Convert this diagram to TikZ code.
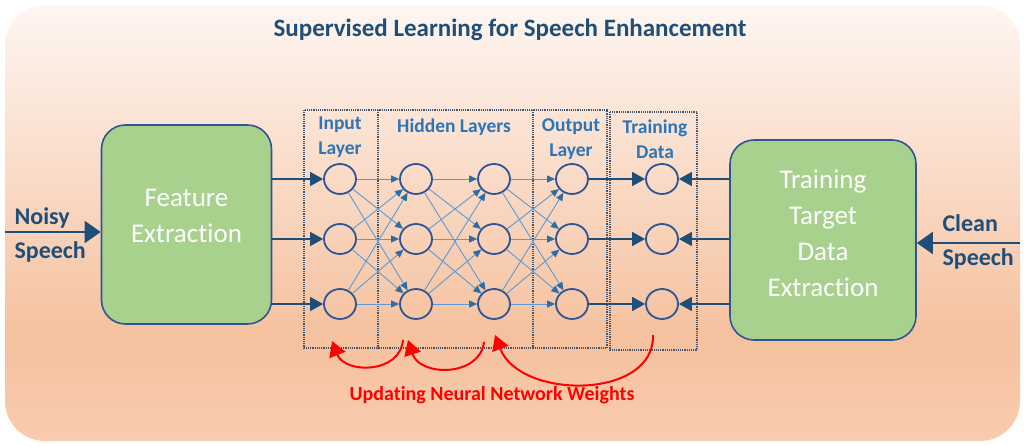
\documentclass[tikz,border=0pt]{standalone}
\usepackage{fontspec}
\setmainfont{Carlito}[Ligatures=NoCommon]
\usetikzlibrary{arrows.meta,positioning,shapes.geometric}
\definecolor{diagink}{HTML}{1F4E79}
\definecolor{diagborder}{HTML}{2F5597}
\definecolor{diaggreen}{HTML}{A9D18E}
\definecolor{diaglabel}{HTML}{2E75B6}
\definecolor{diagwire}{HTML}{5B9BD5}
\definecolor{diagtip}{HTML}{2E6DA4}
\definecolor{diagdots}{HTML}{44546A}
\definecolor{bgtop}{HTML}{FEF6F2}
\definecolor{bgmid}{HTML}{F5C19E}
\definecolor{bgbot}{HTML}{F8CCAF}
\pgfdeclareverticalshading{bgfade}{100bp}{color(0bp)=(bgbot); color(25bp)=(bgbot);
  color(37bp)=(bgmid); color(75bp)=(bgtop); color(100bp)=(bgtop)}

\begin{document}
\begin{tikzpicture}[x=1pt,y=-1pt,
    stagebox/.style={draw=diagborder,line width=1.6pt,fill=diaggreen,rounded corners=24pt},
    stagetext/.style={text=white,align=center,font=\fontsize{27}{36}\selectfont},
    neuron/.style={ellipse,draw=diagborder,line width=1.8pt,minimum width=32pt,
      minimum height=30pt,inner sep=0pt},
    layerbox/.style={draw=diagdots,densely dotted,line width=1.2pt},
    layertext/.style={text=diaglabel,align=center,font=\fontsize{19.5}{25}\selectfont\bfseries},
    signal/.style={draw=diagink,line width=1.6pt,-{Triangle[length=13pt,width=14pt]}},
    wire/.style={draw=diagwire,line width=0.9pt,-{Triangle[length=8pt,width=7pt,color=diagtip]}},
    feedback/.style={draw=red,line width=2pt,-{Triangle[length=15pt,width=17pt]}},
    sidetext/.style={text=diagink,align=left,font=\fontsize{24}{34}\selectfont\bfseries}]
    \useasboundingbox (0,0) rectangle (1024,446);
    \shade[shading=bgfade,rounded corners=40pt] (5,5) rectangle (1020,441);
    \node[text=diagink,font=\fontsize{25}{28}\selectfont\bfseries,anchor=base]
      (title) at (510,37) {Supervised Learning for Speech Enhancement};
    % dotted layer frames
    \draw[layerbox] (304,110) rectangle (607,348);
    \draw[layerbox] (378,110) -- (378,348);
    \draw[layerbox] (533,110) -- (533,348);
    \draw[layerbox] (610,112) rectangle (697,350);
    \node[layertext] (inlabel) at (340,137) {Input\\Layer};
    \node[layertext] (hidlabel) at (454,127) {Hidden Layers};
    \node[layertext] (outlabel) at (571,139) {Output\\Layer};
    \node[layertext] (tdlabel) at (655,139) {Training\\Data};
    % processing blocks
    \node[stagebox,minimum width=170pt,minimum height=199pt] (feat) at (186.5,224.5) {};
    \node[stagetext] (feattext) at ([yshift=9pt]feat.center) {Feature\\Extraction};
    \node[stagebox,minimum width=186pt,minimum height=200pt] (target) at (823,240) {};
    \node[stagetext] (targettext) at ([yshift=7pt]target.center)
      {Training\\Target\\Data\\Extraction};
    % neurons
    \foreach \name/\x in {in/340,ha/416,hb/494,out/572,td/662}{
      \foreach \i/\y in {1/179,2/239,3/304}{
        \node[neuron] (\name\i) at (\x,\y) {};
      }
    }
    \foreach \i in {1,2,3}{
      \draw[signal] (feat.east |- in\i) -- (in\i);
      \draw[signal] (out\i) -- (td\i);
      \draw[signal] (target.west |- td\i) -- (td\i);
    }
    \foreach \a/\b in {in/ha,ha/hb,hb/out}{
      \foreach \i in {1,2,3}{
        \foreach \j in {1,2,3}{
          \draw[wire] (\a\i) -- (\b\j);
        }
      }
    }
    % speech inputs
    \coordinate (noisyin) at (5,232);
    \draw[signal,-{Triangle[length=16pt,width=22pt]}] (noisyin) -- (feat.west |- noisyin);
    \node[sidetext,anchor=west] (noisy) at (11,235) {Noisy\\Speech};
    \coordinate (cleanin) at (1020,243);
    \draw[signal,-{Triangle[length=16pt,width=22pt]}] (cleanin) -- (target.east |- cleanin);
    \node[sidetext,anchor=west] (clean) at (939,242) {Clean\\Speech};
    % weight updates
    \coordinate (fb1) at (403,340);
    \coordinate (fb1end) at (332,341);
    \coordinate (fb2) at (484,342);
    \coordinate (fb2end) at (408,340);
    \coordinate (fb3) at (653,335);
    \coordinate (fb3end) at (495,335);
    \draw[feedback] (fb1) .. controls (400,374) and (345,374) .. (fb1end);
    \draw[feedback] (fb2) .. controls (480,377) and (420,377) .. (fb2end);
    \draw[feedback] (fb3) .. controls (655,400) and (520,400) .. (fb3end);
    \node[text=red,font=\fontsize{20}{22}\selectfont\bfseries,anchor=base]
      (fblabel) at (492,400) {Updating Neural Network Weights};
  \end{tikzpicture}
\end{document}
